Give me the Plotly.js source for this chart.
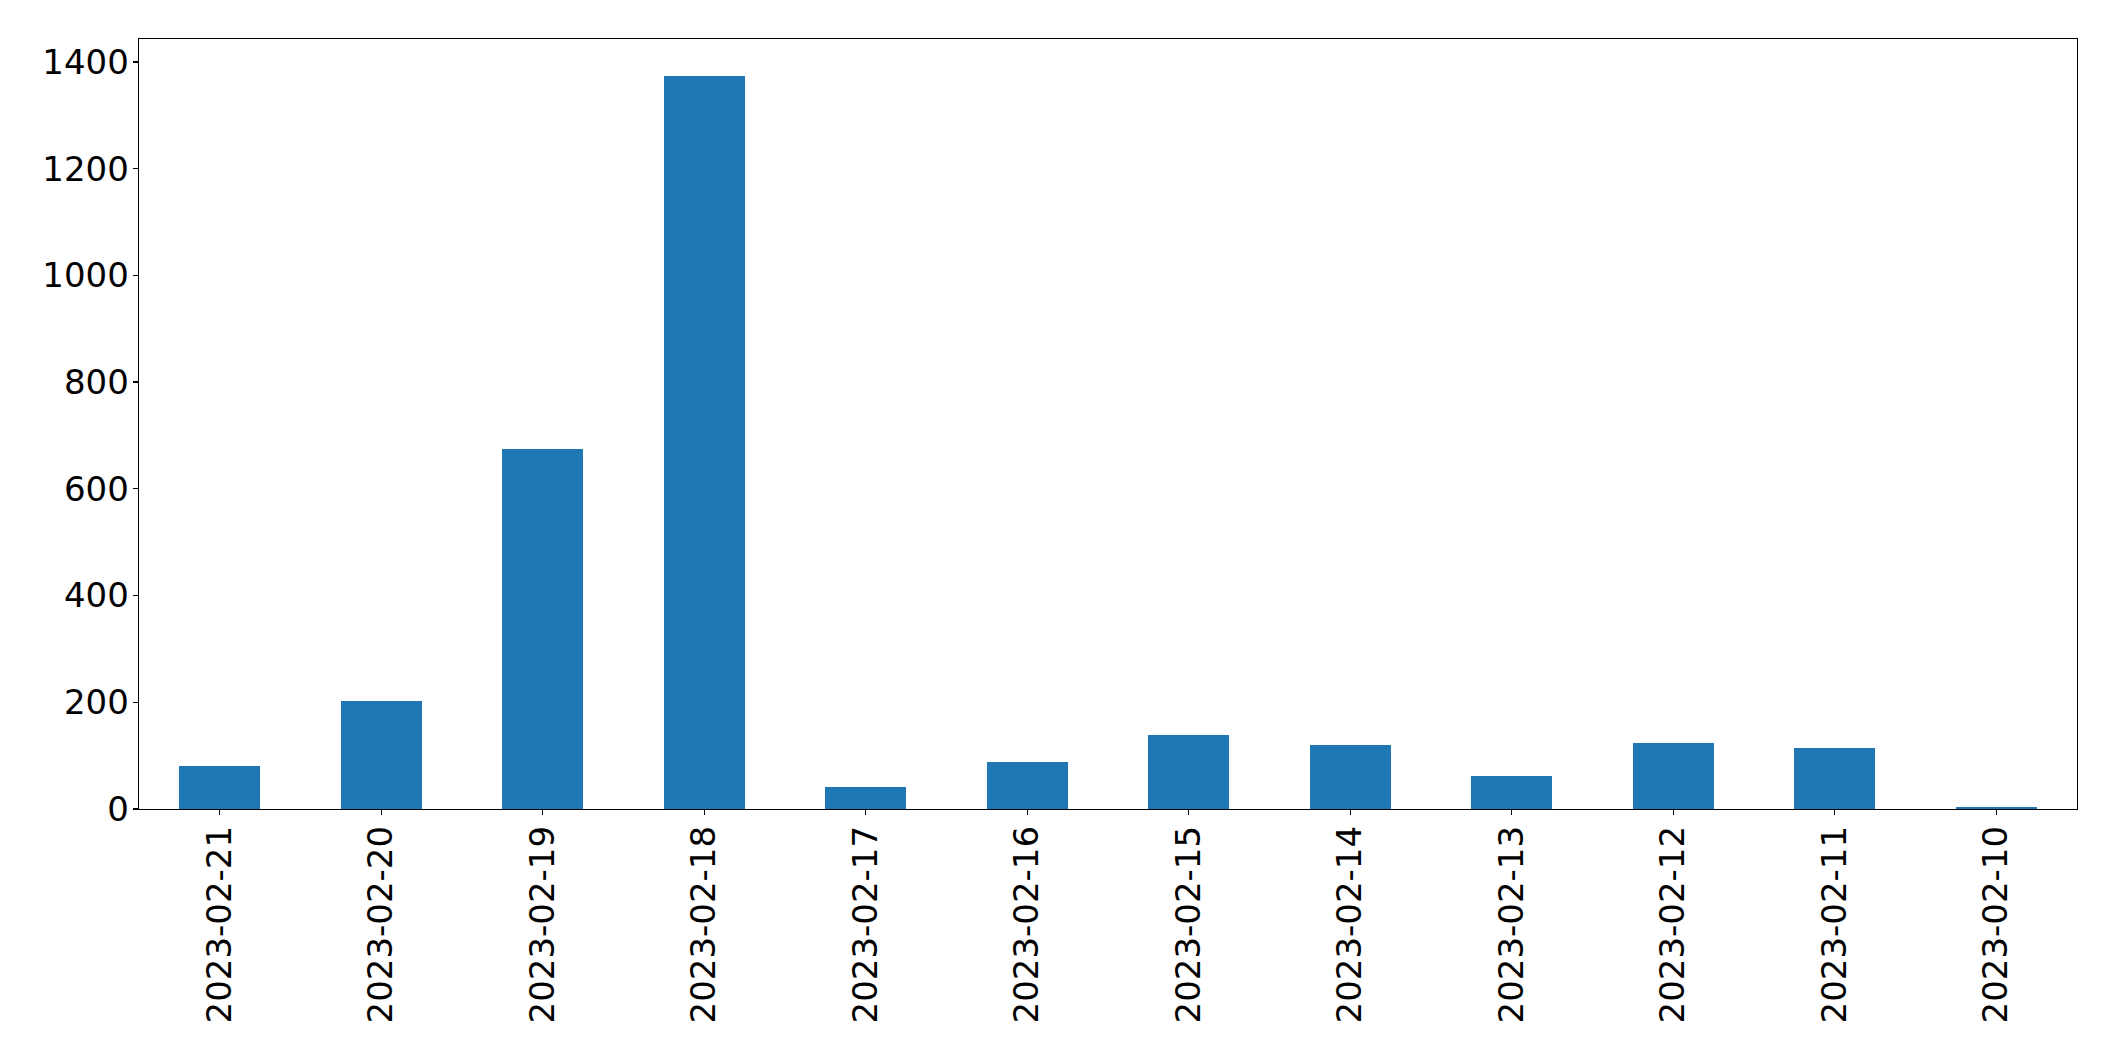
<!DOCTYPE html>
<html>
<head>
<meta charset="utf-8">
<script src="https://cdn.plot.ly/plotly-3.0.1.min.js"></script>
<style>html,body{margin:0;padding:0;background:#fff;}#chart{width:2115px;height:1061px;}</style>
</head>
<body>
<div id="chart"></div>
<script>
const dates = ["2023-02-21","2023-02-20","2023-02-19","2023-02-18","2023-02-17","2023-02-16","2023-02-15","2023-02-14","2023-02-13","2023-02-12","2023-02-11","2023-02-10"];
const counts = [81, 203, 675, 1374, 42, 89, 139, 120, 62, 124, 115, 4];
const yTicks = [0, 200, 400, 600, 800, 1000, 1200, 1400];

const font = {family: "DejaVu Sans", size: 34, color: "#000"};
Plotly.newPlot("chart", [{
  type: "bar",
  x: dates,
  y: counts,
  width: 0.5,
  marker: {color: "#1f77b4", line: {width: 0}},
  hoverinfo: "x+y"
}], {
  width: 2115, height: 1061,
  margin: {l: 138.5, r: 38.3, t: 39.3, b: 251.7, pad: 0},
  paper_bgcolor: "#fff", plot_bgcolor: "#fff",
  showlegend: false,
  bargap: 0,
  font: font,
  xaxis: {
    type: "category",
    range: [-0.5, dates.length - 0.5],
    tickangle: -90,
    ticks: "outside", ticklen: 5, tickwidth: 1.3, tickcolor: "#000",
    showline: true, linecolor: "#000", linewidth: 1.3, mirror: true,
    showgrid: false, zeroline: false,
    tickfont: font,
    ticklabelstandoff: -3
  },
  yaxis: {
    range: [0, 1443],
    tickvals: yTicks,
    ticktext: yTicks.map(String),
    ticks: "outside", ticklen: 5, tickwidth: 1.3, tickcolor: "#000",
    showline: true, linecolor: "#000", linewidth: 1.3, mirror: true,
    showgrid: false, zeroline: false,
    tickfont: font,
    ticklabelstandoff: -3
  }
}, {staticPlot: true});
</script>
</body>
</html>
